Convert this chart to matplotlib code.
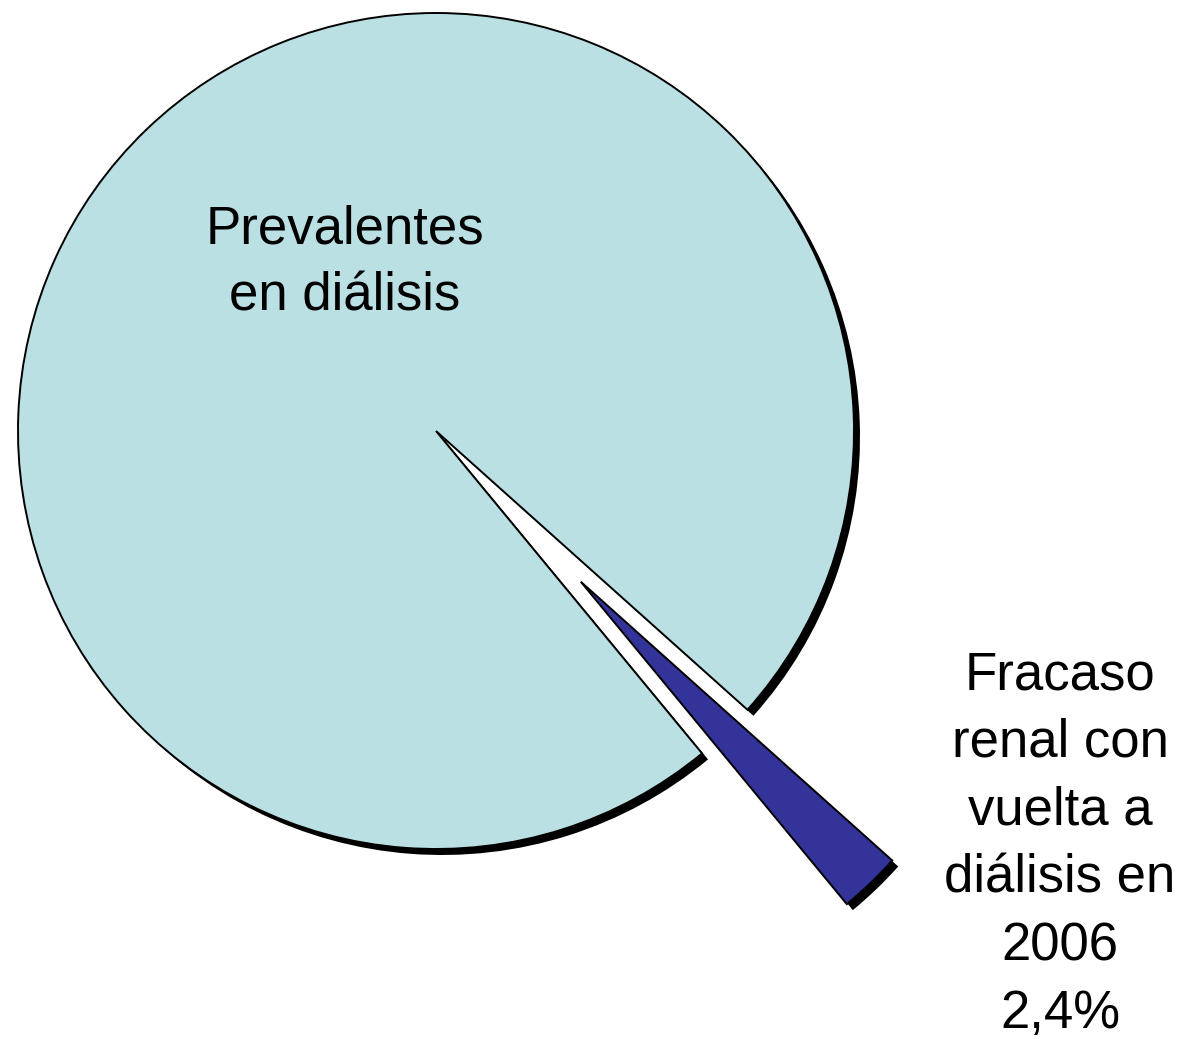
import matplotlib.pyplot as plt

# data
labels = ['Prevalentes\nen diálisis', 'Fracaso\nrenal con\nvuelta a\ndiálisis en\n2006\n2,4%']
values = [97.6, 2.4]
colors = ['#BAE0E3', '#333399']
explode = [0, 0.5]  # fraction of the radius

plt.rcParams['font.family'] = ['Liberation Sans', 'DejaVu Sans']

W, H = 1180, 1039
fig = plt.figure(figsize=(W / 100, H / 100), dpi=100)
ax = fig.add_axes([0, 0, 1, 1])

cx, cy, r = 436, H - 431, 418
start = -46.15 + values[1] * 3.6 / 2
expl = [e * r for e in explode]  # pie wants explode in data units

# shadow first, then the pie on top
ax.pie(values, explode=expl, colors=['black', 'black'], radius=r,
       center=(cx + 6, cy - 6), startangle=start, frame=True,
       wedgeprops=dict(linewidth=0))
ax.pie(values, explode=expl, colors=colors, radius=r,
       center=(cx, cy), startangle=start, frame=True,
       wedgeprops=dict(edgecolor='black', linewidth=1.4))

# labels, one line at a time
label_pos = [(345, 243), (1060, 689)]
for text, (x, y) in zip(labels, label_pos):
    for i, line in enumerate(text.split('\n')):
        ax.text(x, H - (y + 67.8 * i), line, ha='center', va='baseline',
                fontsize=38, color='black')

ax.set_xlim(0, W)
ax.set_ylim(0, H)
ax.set_aspect('equal')
ax.axis('off')

fig.savefig('out.png', dpi=100)
